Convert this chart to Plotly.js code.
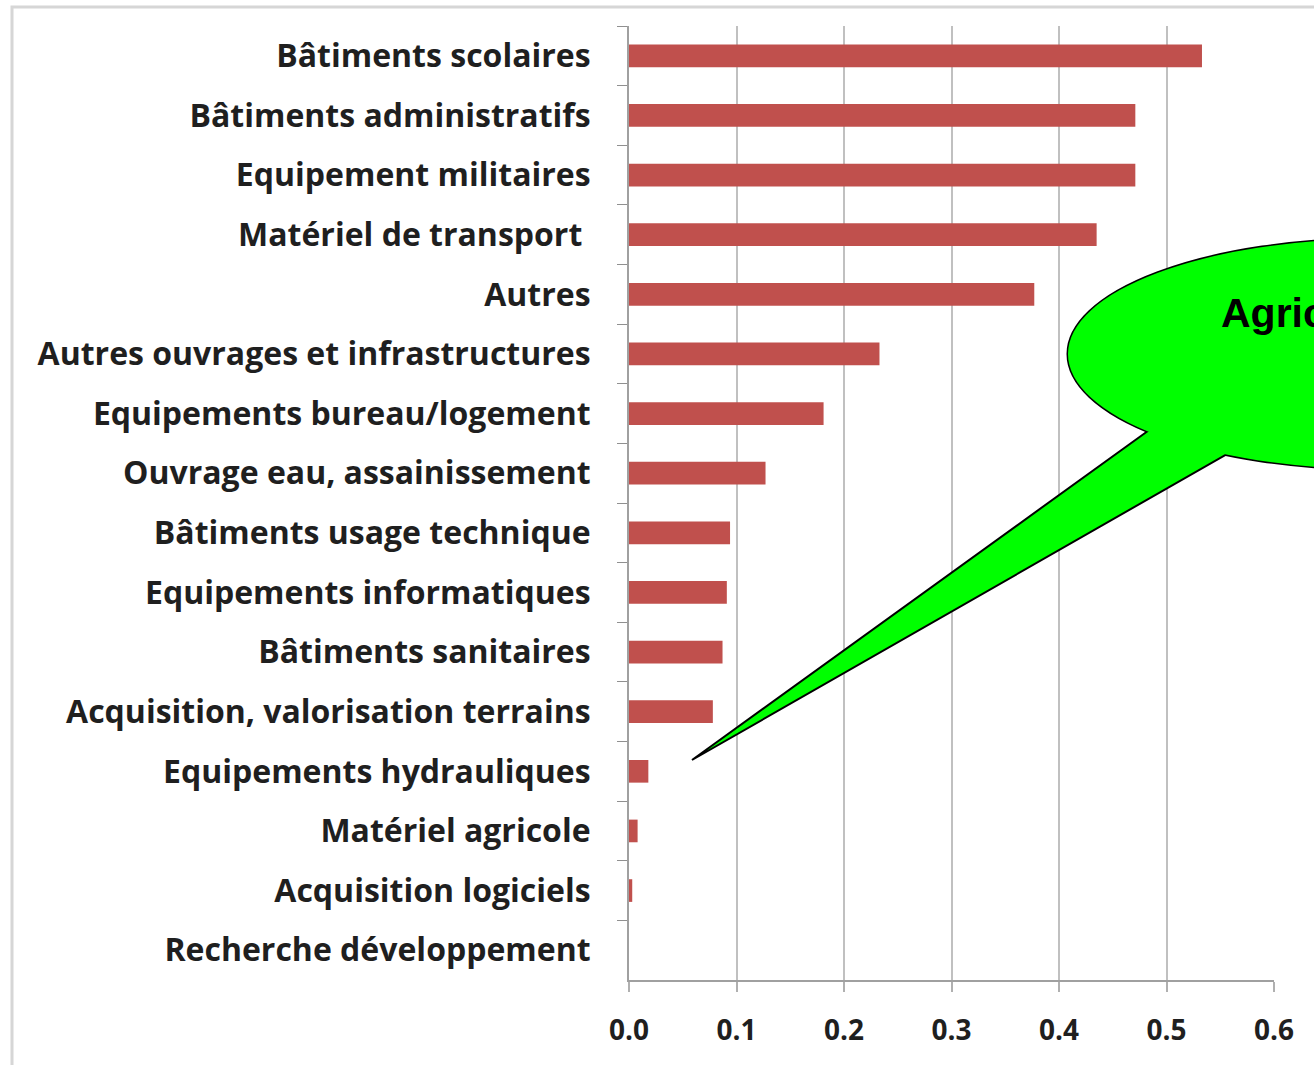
<!DOCTYPE html>
<html>
<head>
<meta charset="utf-8">
<script src="https://cdn.plot.ly/plotly-3.0.1.min.js"></script>
<style>html,body{margin:0;padding:0;background:#fff;}#chart{width:1314px;height:1065px;}</style>
</head>
<body>
<div id="chart"></div>
<script>
// ---- data ----
var categories = [
  "Bâtiments scolaires",
  "Bâtiments administratifs",
  "Equipement militaires",
  "Matériel de transport ",
  "Autres",
  "Autres ouvrages et infrastructures",
  "Equipements bureau/logement",
  "Ouvrage eau, assainissement",
  "Bâtiments usage technique",
  "Equipements informatiques",
  "Bâtiments sanitaires",
  "Acquisition, valorisation terrains",
  "Equipements hydrauliques",
  "Matériel agricole",
  "Acquisition logiciels",
  "Recherche développement"
];
var values = [0.533, 0.471, 0.471, 0.435, 0.377, 0.233, 0.181, 0.127, 0.094, 0.091, 0.087, 0.078, 0.018, 0.008, 0.003, 0.0];
var xTickValues = [0, 0.1, 0.2, 0.3, 0.4, 0.5, 0.6];
var xTickLabels = ["0.0", "0.1", "0.2", "0.3", "0.4", "0.5", "0.6"];
var calloutText = "Agriculture";

// ---- layout helpers (pixel -> paper) ----
var W = 1314, H = 1065;
var mL = 629, mR = 40, mT = 26, mB = 85;
var pw = W - mL - mR, ph = H - mT - mB;
function px(x) { return (x - mL) / pw; }
function py(y) { return (H - mB - y) / ph; }

var trace = {
  type: "bar",
  orientation: "h",
  y: categories,
  x: values,
  marker: { color: "#C0504D", line: { width: 0 } },
  hoverinfo: "skip"
};

var green = "#00FF00";
var ell = { x0: px(1068), x1: px(1682), y0: py(469), y1: py(239) };
var tailPath = "M " + px(1152) + "," + py(428) +
               " L " + px(692) + "," + py(760) +
               " L " + px(1234) + "," + py(450) + " Z";

var layout = {
  width: W, height: H,
  margin: { l: mL, r: mR, t: mT, b: mB, pad: 0 },
  paper_bgcolor: "#ffffff",
  plot_bgcolor: "#ffffff",
  showlegend: false,
  bargap: 0.62,
  xaxis: {
    range: [0, 0.6],
    tickmode: "array",
    tickvals: xTickValues,
    ticktext: xTickLabels,
    showgrid: true,
    gridcolor: "#c0c0c0",
    gridwidth: 2,
    zeroline: false,
    showline: true,
    linecolor: "#a0a0a0",
    linewidth: 2,
    ticks: "outside",
    ticklen: 10,
    tickwidth: 2,
    tickcolor: "#b0b0b0",
    ticklabelstandoff: 14,
    tickfont: { family: "Open Sans", size: 28, weight: "bold", color: "#1f1f1f" }
  },
  yaxis: {
    type: "category",
    autorange: "reversed",
    showgrid: false,
    zeroline: false,
    showline: true,
    linecolor: "#a0a0a0",
    linewidth: 2,
    ticks: "outside",
    tickson: "boundaries",
    ticklen: 10,
    tickwidth: 1,
    tickcolor: "#909090",
    ticklabelstandoff: 30,
    tickfont: { family: "Open Sans", size: 32, weight: "bold", color: "#1f1f1f" }
  },
  shapes: [
    // outer frame
    { type: "rect", xref: "paper", yref: "paper", layer: "below",
      x0: px(12), x1: px(1400), y0: py(1100), y1: py(7),
      line: { color: "#d6d6d6", width: 3 }, fillcolor: "rgba(0,0,0,0)" },
    // callout ellipse with border
    { type: "circle", xref: "paper", yref: "paper", layer: "above",
      x0: ell.x0, x1: ell.x1, y0: ell.y0, y1: ell.y1,
      line: { color: "#000000", width: 3 }, fillcolor: green },
    // callout tail
    { type: "path", xref: "paper", yref: "paper", layer: "above",
      path: tailPath, line: { color: "#000000", width: 2 }, fillcolor: green },
    // ellipse fill covering tail base
    { type: "circle", xref: "paper", yref: "paper", layer: "above",
      x0: ell.x0, x1: ell.x1, y0: ell.y0, y1: ell.y1,
      line: { width: 0 }, fillcolor: green }
  ],
  annotations: [
    { xref: "paper", yref: "paper", x: px(1219), y: py(313),
      xanchor: "left", yanchor: "middle", showarrow: false,
      text: calloutText,
      font: { family: "Liberation Sans", size: 41, weight: "bold", color: "#000000" } }
  ]
};

Plotly.newPlot("chart", [trace], layout, { displayModeBar: false, staticPlot: true });
</script>
</body>
</html>
